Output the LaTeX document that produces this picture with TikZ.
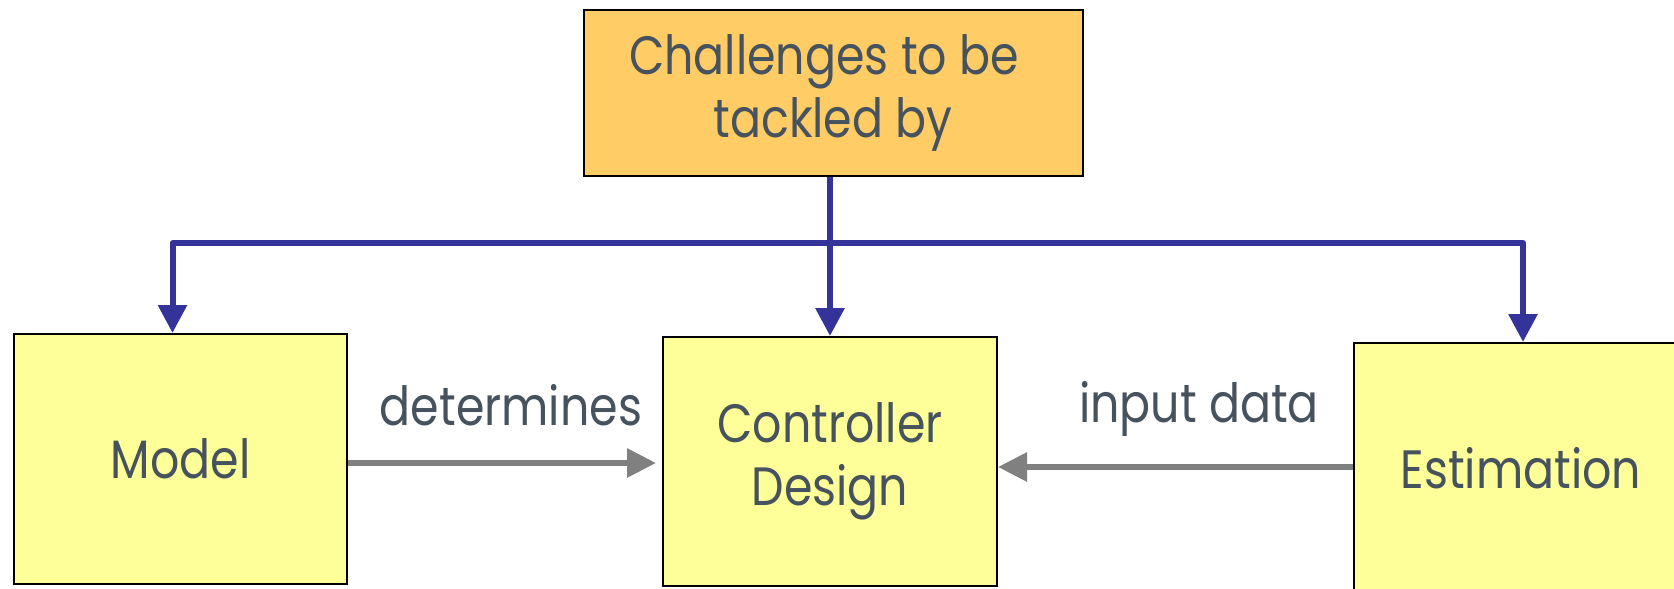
\documentclass[tikz,border=0pt]{standalone}
\usepackage{fontspec}
\setmainfont{Poppins}[FakeStretch=0.85]
\usepackage{tikz}
\usetikzlibrary{arrows.meta}

\definecolor{slidetext}{HTML}{46535E}
\definecolor{boxyellow}{HTML}{FFFF99}
\definecolor{boxorange}{HTML}{FFCC66}
\definecolor{flowblue}{HTML}{333399}
\definecolor{flowgray}{HTML}{808080}

\tikzset{
  block/.style={draw=black, line width=2pt, fill=boxyellow, text=slidetext,
    align=center, minimum width=333pt, minimum height=250pt, inner sep=0pt,
    font=\fontsize{54}{63}\selectfont},
  splitline/.style={draw=flowblue, line width=6pt, line join=round,
    -{Triangle[length=28pt,width=28pt]}},
  dataline/.style={draw=flowgray, line width=6pt,
    -{Triangle[length=29pt,width=28pt]}},
  flowlabel/.style={text=slidetext, anchor=base, inner sep=0pt,
    font=\fontsize{54}{63}\selectfont}
}

\begin{document}
\begin{tikzpicture}[x=1pt,y=-1pt]
          % Page frame
          \clip (0,0) rectangle (1674,589);
          \fill[white] (0,0) rectangle (1674,589);
          % Top box
          \node[block, fill=boxorange, minimum width=499pt, minimum height=166pt] (challenges) at (833,92.5)
            {Challenges to be\hspace*{18pt}\\tackled by};
          % Lower boxes
          \node[block] (model) at (180.5,459) {Model};
          \node[block, minimum width=334pt, minimum height=249pt] (design) at (830,461.5) {Controller\\Design};
          \node[block, minimum width=334pt, minimum height=251pt] (estimation) at (1521,468.5) {Estimation};
          % Blue split
          \coordinate (split) at (830,243);
          \draw[splitline] (design.north |- challenges.south) -- (design.north);
          \draw[splitline] (split) -| ([xshift=-8pt]model.north);
          \draw[splitline] (split) -| ([xshift=2pt]estimation.north);
          % Gray arrows
          \draw[dataline, shorten >=6pt] ([yshift=-4pt]model.east) -- ([yshift=-4pt]model.east -| design.west);
          \draw[dataline] ([yshift=1.5pt]estimation.west) -- ([yshift=1.5pt]estimation.west -| design.east);
          \node[flowlabel] (determines) at (511,425) {determines};
          \node[flowlabel] (inputdata) at (1199,422) {input data};
        \end{tikzpicture}
\end{document}
